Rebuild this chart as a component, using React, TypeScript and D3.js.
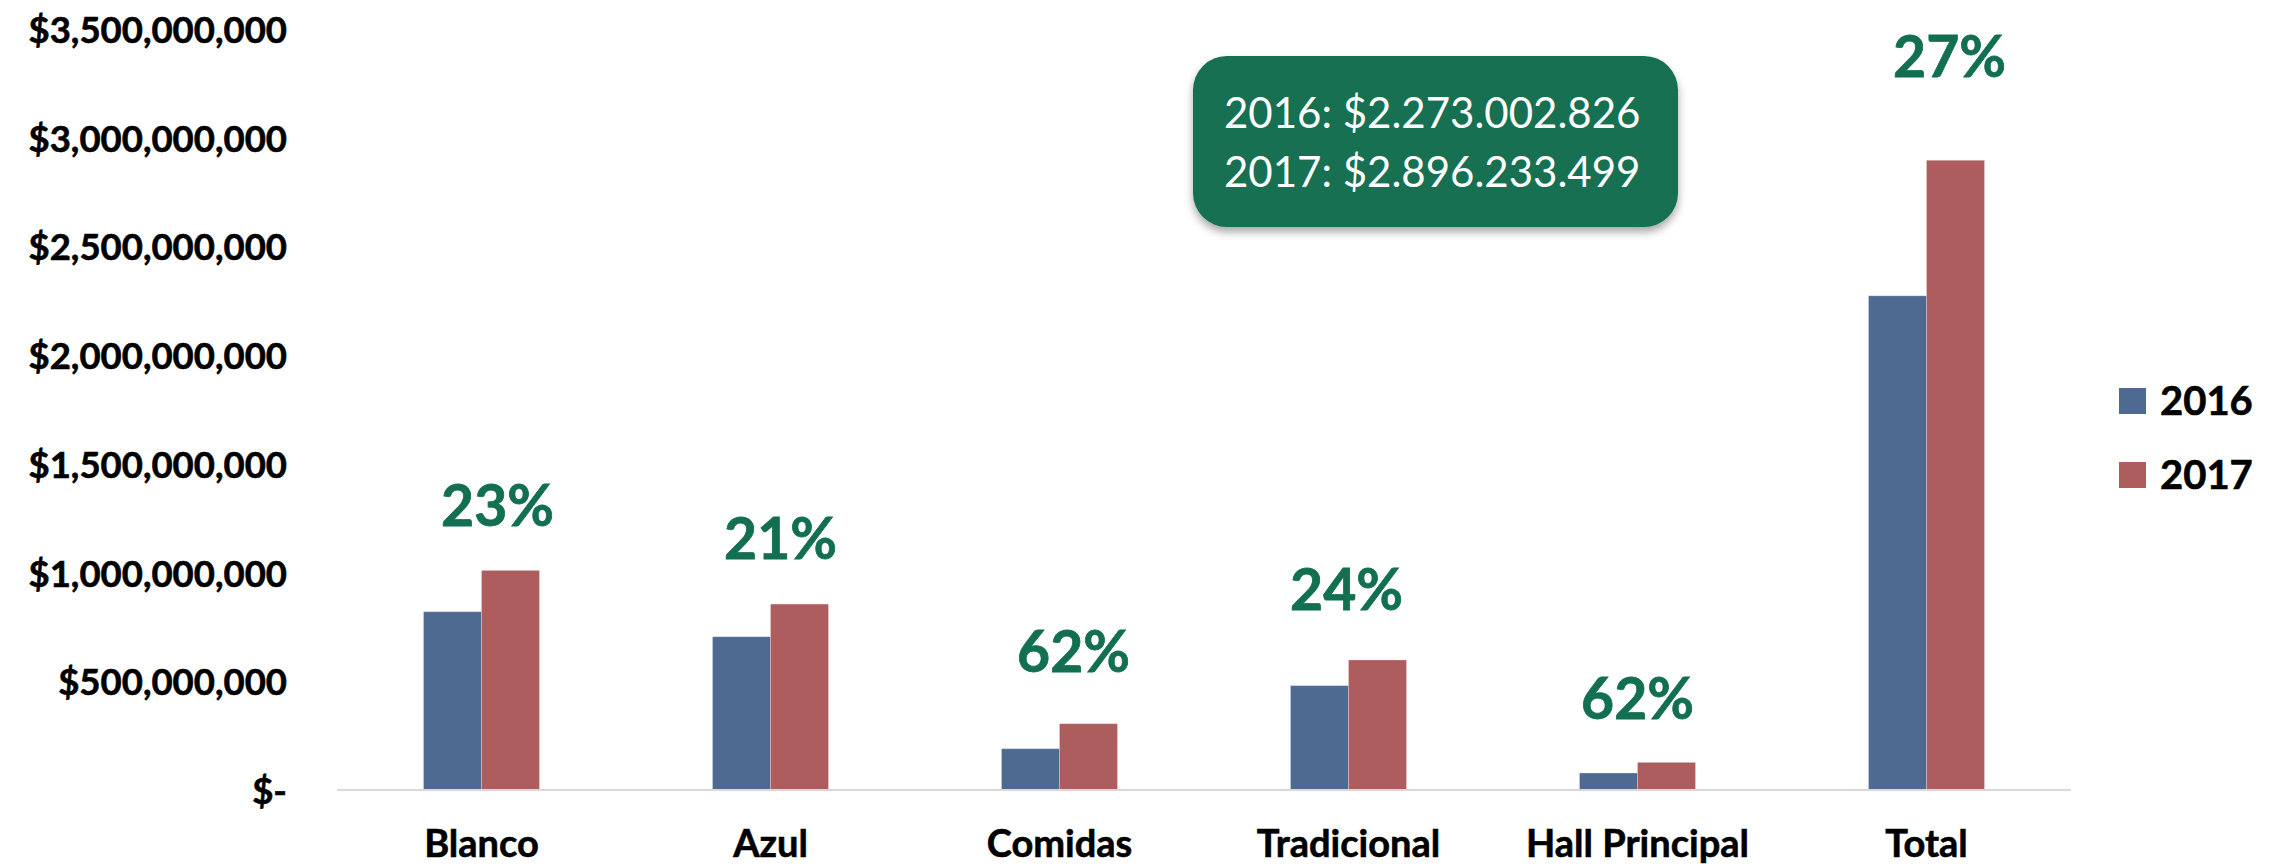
import React from "react";
import * as d3 from "d3";

const categories = ["Blanco", "Azul", "Comidas", "Tradicional", "Hall Principal", "Total"];
const series = ["2016", "2017"];
const values2016 = [820000000, 705000000, 190000000, 480000000, 78000000, 2273002826];
const values2017 = [1010000000, 855000000, 305000000, 598000000, 127000000, 2896233499];
const growthLabels = ["23%", "21%", "62%", "24%", "62%", "27%"];
const yTicks = [0, 500000000, 1000000000, 1500000000, 2000000000, 2500000000, 3000000000, 3500000000];
const tooltipLines = ["2016: $2.273.002.826", "2017: $2.896.233.499"];

// layout nudges for the growth labels (pixels), not data
const labelDx = [16, 10, 14, -2, 0, 23];
const labelDy = [44, 45, 52, 50, 43, 83];

const W = 2277;
const H = 865;
const colors = { "2016": "#4E6A91", "2017": "#AD5D5E" };
const green = "#126F51";
const FONT = "Lato, 'Open Sans', sans-serif";

export default function App() {
  const x = d3.scaleBand<string>().domain(categories).range([337, 2071]).padding(0);
  const step = x.bandwidth();
  const groupW = 116;
  const xs = d3.scaleBand<string>().domain(series).range([0, groupW]).padding(0);
  const y = d3.scaleLinear().domain([0, 3500000000]).range([790, 29]);
  const fmt = (v: number) => (v === 0 ? "$-" : "$" + d3.format(",")(v));
  const data = [values2016, values2017];

  return (
    <svg width={W} height={H} style={{ position: "absolute", left: 0, top: 0, background: "#fff" }}>
      <defs>
        <filter id="shadow" x="-10%" y="-10%" width="120%" height="140%">
          <feDropShadow dx="0" dy="5" stdDeviation="4" floodColor="#000" floodOpacity="0.35" />
        </filter>
      </defs>
      {/* y axis labels */}
      {yTicks.map((t) => (
        <text
          key={t}
          x={287}
          y={y(t)}
          textAnchor="end"
          dominantBaseline="central"
          fontFamily={FONT}
          fontWeight={700}
          fontSize={36.5}
          fill="#000"
          stroke="#000"
          strokeWidth={0.6}
        >
          {fmt(t)}
        </text>
      ))}
      {/* bars */}
      {categories.map((c, i) => (
        <g key={c} transform={`translate(${x(c)! + (step - groupW) / 2},0)`}>
          {series.map((s, j) => (
            <rect
              key={s}
              x={xs(s)}
              y={y(data[j][i])}
              width={xs.bandwidth()}
              height={y(0) - y(data[j][i])}
              fill={colors[s as "2016" | "2017"]}
              stroke="rgba(255,255,255,0.25)"
              strokeWidth={1}
            />
          ))}
        </g>
      ))}
      {/* baseline */}
      <line x1={337} x2={2071} y1={y(0)} y2={y(0)} stroke="#D9D9D9" strokeWidth={2} />
      {/* category labels */}
      {categories.map((c) => (
        <text
          key={c}
          x={x(c)! + step / 2}
          y={857}
          textAnchor="middle"
          fontFamily={FONT}
          fontWeight={700}
          fontSize={38}
          fill="#000"
          stroke="#000"
          strokeWidth={0.6}
        >
          {c}
        </text>
      ))}
      {/* growth labels */}
      {categories.map((c, i) => (
        <text
          key={c}
          x={x(c)! + step / 2 + labelDx[i]}
          y={y(Math.max(values2016[i], values2017[i])) - labelDy[i]}
          textAnchor="middle"
          fontFamily={FONT}
          fontWeight={700}
          fontSize={57}
          fill={green}
          stroke={green}
          strokeWidth={0.8}
        >
          {growthLabels[i]}
        </text>
      ))}
      {/* tooltip box */}
      <rect x={1193} y={56} width={485} height={171} rx={34} ry={34} fill={green} filter="url(#shadow)" />
      {tooltipLines.map((t, i) => (
        <text
          key={t}
          x={1224}
          y={128 + i * 59}
          fontFamily={FONT}
          fontWeight={400}
          fontSize={42}
          fill="#fff"
        >
          {t}
        </text>
      ))}
      {/* legend */}
      {series.map((s, i) => (
        <g key={s} transform={`translate(2119,${388 + i * 74})`}>
          <rect x={0} y={0} width={27} height={26} fill={colors[s as "2016" | "2017"]} />
          <text x={41} y={27} fontFamily={FONT} fontWeight={700} fontSize={40} fill="#000" stroke="#000" strokeWidth={0.6}>
            {s}
          </text>
        </g>
      ))}
    </svg>
  );
}
